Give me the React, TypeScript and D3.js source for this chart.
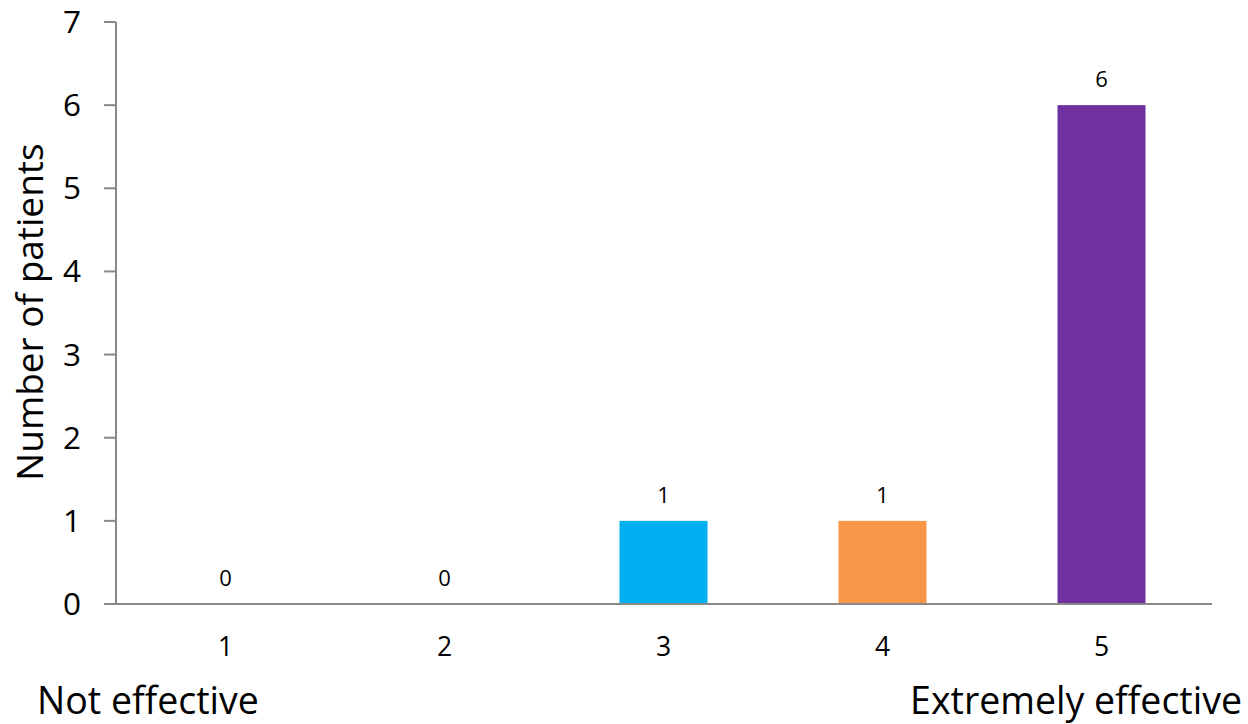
import React from "react";
import * as d3 from "d3";

const categories = ["1", "2", "3", "4", "5"];
const patients = [0, 0, 1, 1, 6];
const barColors = ["#C0504D", "#9BBB59", "#00B0F0", "#F79646", "#7030A0"];
const yTicks = [0, 1, 2, 3, 4, 5, 6, 7];

const W = 1248;
const H = 724;
const FONT = "'Open Sans', sans-serif";

export default function App() {
  const x = d3.scaleBand<string>().domain(categories).range([116, 1211]).paddingInner(0.6).paddingOuter(0.3);
  const y = d3.scaleLinear().domain([0, 7]).range([604, 22]);
  const bw = 88;

  return (
    <div style={{ position: "absolute", left: 0, top: 0 }}>
      <svg width={W} height={H} style={{ display: "block", background: "#fff" }}>
        {/* bars with value labels and category labels */}
        {categories.map((c, i) => {
          const cx = (x(c) as number) + x.bandwidth() / 2;
          return (
            <g key={c}>
              <rect x={cx - bw / 2} y={y(patients[i])} width={bw} height={y(0) - y(patients[i])} fill={barColors[i]} />
              <text x={cx} y={y(patients[i]) - 18} textAnchor="middle" fontFamily={FONT} fontSize={22} fill="#000">
                {patients[i]}
              </text>
              <text x={cx} y={656} textAnchor="middle" fontFamily={FONT} fontSize={26.5} fill="#000">
                {c}
              </text>
            </g>
          );
        })}
        {/* y axis */}
        <line x1={116} x2={116} y1={y(7)} y2={y(0)} stroke="#898989" strokeWidth={2} />
        {yTicks.map((t) => (
          <g key={t}>
            <line x1={104} x2={116} y1={y(t)} y2={y(t)} stroke="#898989" strokeWidth={2} />
            <text x={81} y={y(t) + 11} textAnchor="end" fontFamily={FONT} fontSize={31.5} fill="#000">
              {t}
            </text>
          </g>
        ))}
        {/* x axis */}
        <line x1={116} x2={1212} y1={y(0)} y2={y(0)} stroke="#898989" strokeWidth={2} />
        <text
          transform={`translate(43,312) rotate(-90)`}
          textAnchor="middle"
          fontFamily={FONT}
          fontSize={37}
          fill="#000"
        >
          Number of patients
        </text>
        <text x={37} y={714} fontFamily={FONT} fontSize={37.5} fill="#000">
          Not effective
        </text>
        <text x={1242} y={714} textAnchor="end" fontFamily={FONT} fontSize={37.5} fill="#000">
          Extremely effective
        </text>
      </svg>
    </div>
  );
}
